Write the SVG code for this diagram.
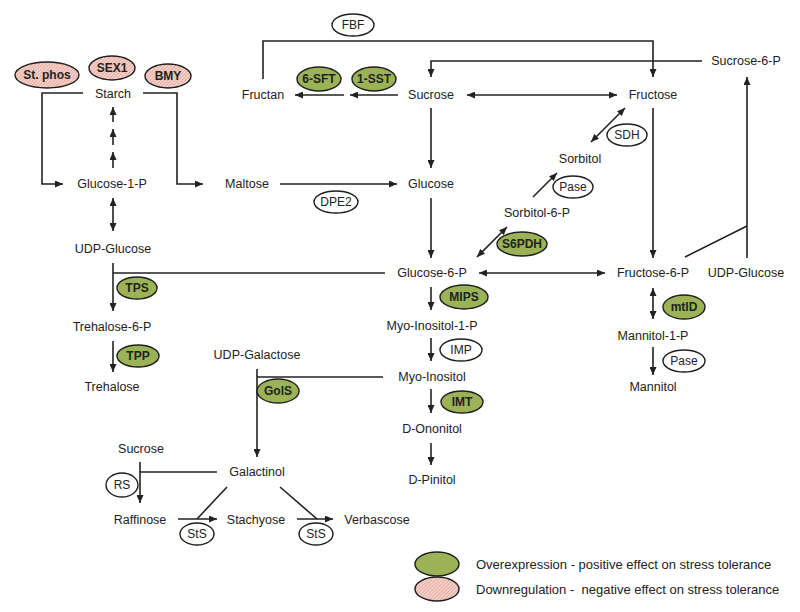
<svg xmlns="http://www.w3.org/2000/svg" width="800" height="612" viewBox="0 0 800 612">
<style>
text{font-family:"Liberation Sans",Arial,sans-serif;font-size:12.5px;fill:#222;text-anchor:middle;dominant-baseline:central}
.e text{font-weight:bold;font-size:12px}
.w text{font-weight:normal}
.lg{text-anchor:start;font-size:13px;white-space:pre}
.c line,.c polyline{stroke:#222;stroke-width:1.6;fill:none}
.ar{marker-end:url(#ah)}
.ar2{marker-end:url(#ah);marker-start:url(#ah)}
ellipse.g{fill:#9bb356;stroke:#1e1e1e;stroke-width:1.4}
ellipse.p{fill:url(#hatch);stroke:#1e1e1e;stroke-width:1.4}
ellipse.o{fill:#fff;stroke:#1e1e1e;stroke-width:1.4}
</style>
<defs>
<marker id="ah" markerUnits="userSpaceOnUse" markerWidth="8" markerHeight="7" refX="8" refY="3.5" orient="auto-start-reverse">
<path d="M0,0 L8,3.5 L0,7 z" fill="#222"/>
</marker>
<pattern id="hatch" patternUnits="userSpaceOnUse" width="2.5" height="2.5" patternTransform="rotate(45)">
<rect width="2.5" height="2.5" fill="#f4d0c8"/>
<line x1="0" y1="0" x2="0" y2="2.5" stroke="#d98a7c" stroke-width="0.9"/>
</pattern>
</defs>
<rect width="800" height="612" fill="#fff"/>

<g class="c" id="connectors">
<polyline class="ar" points="263,79 263,41 653,41 653,77"/>
<polyline class="ar" points="702,61 431,61 431,77"/>
<line class="ar" x1="398" y1="95" x2="350" y2="95"/>
<line class="ar" x1="344" y1="95" x2="295" y2="95"/>
<line class="ar2" x1="467" y1="95" x2="617" y2="95"/>
<polyline class="ar" points="83,93 42,93 42,184 63,184"/>
<polyline class="ar" points="143,93 177,93 177,184 203,184"/>
<line class="ar" x1="113" y1="168" x2="113" y2="152"/>
<line class="ar" x1="113" y1="145" x2="113" y2="129"/>
<line class="ar" x1="113" y1="122" x2="113" y2="107"/>
<line class="ar2" x1="113" y1="198" x2="113" y2="231"/>
<line class="ar" x1="280" y1="184" x2="397" y2="184"/>
<line class="ar" x1="431" y1="108" x2="431" y2="168"/>
<line class="ar" x1="431" y1="198" x2="431" y2="258"/>
<line class="ar" x1="113" y1="263" x2="113" y2="311"/>
<line x1="113" y1="273" x2="385" y2="273"/>
<line class="ar" x1="113" y1="341" x2="113" y2="372"/>
<line class="ar2" x1="477" y1="257" x2="507" y2="227"/>
<line class="ar" x1="533" y1="197" x2="557" y2="173"/>
<line class="ar2" x1="591" y1="142" x2="625" y2="108"/>
<line class="ar2" x1="479" y1="273" x2="605" y2="273"/>
<line class="ar" x1="653" y1="108" x2="653" y2="258"/>
<polyline points="685,257 747,226"/>
<line class="ar" x1="747" y1="258" x2="747" y2="77"/>
<line class="ar2" x1="653" y1="288" x2="653" y2="319"/>
<line class="ar" x1="653" y1="347" x2="653" y2="375"/>
<line class="ar" x1="431" y1="287" x2="431" y2="310"/>
<line class="ar" x1="431" y1="338" x2="431" y2="361"/>
<line class="ar" x1="431" y1="389" x2="431" y2="413"/>
<line class="ar" x1="431" y1="443" x2="431" y2="465"/>
<line x1="257" y1="377" x2="383" y2="377"/>
<line class="ar" x1="257" y1="369" x2="257" y2="457"/>
<line x1="217" y1="472" x2="140" y2="472"/>
<line class="ar" x1="140" y1="462" x2="140" y2="503"/>
<line class="ar" x1="178" y1="519" x2="217" y2="519"/>
<line x1="227" y1="487" x2="197" y2="519"/>
<line class="ar" x1="297" y1="519" x2="333" y2="519"/>
<line x1="280" y1="487" x2="317" y2="519"/>
</g>

<g id="n-starch"><text x="113" y="94">Starch</text></g>
<g id="n-fructan"><text x="263" y="95">Fructan</text></g>
<g id="n-sucrose"><text x="431" y="95">Sucrose</text></g>
<g id="n-fructose"><text x="653" y="95">Fructose</text></g>
<g id="n-sucrose6p"><text x="746" y="61">Sucrose-6-P</text></g>
<g id="n-glucose1p"><text x="112" y="184">Glucose-1-P</text></g>
<g id="n-maltose"><text x="247" y="184">Maltose</text></g>
<g id="n-glucose"><text x="431" y="184">Glucose</text></g>
<g id="n-sorbitol"><text x="580" y="159">Sorbitol</text></g>
<g id="n-sorbitol6p"><text x="537" y="213">Sorbitol-6-P</text></g>
<g id="n-udpglucose"><text x="113" y="249">UDP-Glucose</text></g>
<g id="n-glucose6p"><text x="432" y="273">Glucose-6-P</text></g>
<g id="n-fructose6p"><text x="653" y="273">Fructose-6-P</text></g>
<g id="n-udpglucose2"><text x="746" y="273">UDP-Glucose</text></g>
<g id="n-trehalose6p"><text x="112" y="327">Trehalose-6-P</text></g>
<g id="n-trehalose"><text x="112" y="387">Trehalose</text></g>
<g id="n-myoinositol1p"><text x="432" y="326">Myo-Inositol-1-P</text></g>
<g id="n-myoinositol"><text x="432" y="377">Myo-Inositol</text></g>
<g id="n-dononitol"><text x="432" y="429">D-Ononitol</text></g>
<g id="n-dpinitol"><text x="432" y="480">D-Pinitol</text></g>
<g id="n-mannitol1p"><text x="653" y="336">Mannitol-1-P</text></g>
<g id="n-mannitol"><text x="653" y="387">Mannitol</text></g>
<g id="n-udpgalactose"><text x="257" y="355">UDP-Galactose</text></g>
<g id="n-galactinol"><text x="257" y="472">Galactinol</text></g>
<g id="n-sucrose2"><text x="141" y="449">Sucrose</text></g>
<g id="n-raffinose"><text x="140" y="520">Raffinose</text></g>
<g id="n-stachyose"><text x="256" y="520">Stachyose</text></g>
<g id="n-verbascose"><text x="377" y="520">Verbascose</text></g>

<g class="e" id="z-stphos"><ellipse class="p" cx="47" cy="75" rx="32" ry="13"/><text x="47" y="75">St. phos</text></g>
<g class="e" id="z-sex1"><ellipse class="p" cx="112" cy="68" rx="23" ry="12"/><text x="112" y="68">SEX1</text></g>
<g class="e" id="z-bmy"><ellipse class="p" cx="168" cy="76" rx="23" ry="12"/><text x="168" y="76">BMY</text></g>
<g class="e" id="z-6sft"><ellipse class="g" cx="319" cy="79" rx="22" ry="12"/><text x="319" y="79">6-SFT</text></g>
<g class="e" id="z-1sst"><ellipse class="g" cx="374" cy="79" rx="22" ry="12"/><text x="374" y="79">1-SST</text></g>
<g class="e w" id="z-fbf"><ellipse class="o" cx="353" cy="25" rx="21" ry="11"/><text x="353" y="25">FBF</text></g>
<g class="e w" id="z-dpe2"><ellipse class="o" cx="336" cy="202" rx="22" ry="11"/><text x="336" y="202">DPE2</text></g>
<g class="e w" id="z-sdh"><ellipse class="o" cx="627" cy="135" rx="20" ry="11"/><text x="627" y="135">SDH</text></g>
<g class="e w" id="z-pase1"><ellipse class="o" cx="573" cy="187" rx="20" ry="11"/><text x="573" y="187">Pase</text></g>
<g class="e" id="z-s6pdh"><ellipse class="g" cx="522" cy="244" rx="25" ry="12"/><text x="522" y="244">S6PDH</text></g>
<g class="e" id="z-tps"><ellipse class="g" cx="137" cy="288" rx="20" ry="11"/><text x="137" y="288">TPS</text></g>
<g class="e" id="z-tpp"><ellipse class="g" cx="138" cy="356" rx="21" ry="11"/><text x="138" y="356">TPP</text></g>
<g class="e" id="z-mips"><ellipse class="g" cx="464" cy="297" rx="24" ry="12"/><text x="464" y="297">MIPS</text></g>
<g class="e w" id="z-imp"><ellipse class="o" cx="461" cy="350" rx="21" ry="11"/><text x="461" y="350">IMP</text></g>
<g class="e" id="z-imt"><ellipse class="g" cx="462" cy="402" rx="21" ry="11"/><text x="462" y="402">IMT</text></g>
<g class="e" id="z-mtld"><ellipse class="g" cx="684" cy="307" rx="21" ry="12"/><text x="684" y="307">mtlD</text></g>
<g class="e w" id="z-pase2"><ellipse class="o" cx="684" cy="361" rx="21" ry="11"/><text x="684" y="361">Pase</text></g>
<g class="e" id="z-gols"><ellipse class="g" cx="278" cy="391" rx="21" ry="12"/><text x="278" y="391">GolS</text></g>
<g class="e w" id="z-rs"><ellipse class="o" cx="122" cy="485" rx="16" ry="12"/><text x="122" y="485">RS</text></g>
<g class="e w" id="z-sts1"><ellipse class="o" cx="197" cy="534" rx="17" ry="11"/><text x="197" y="534">StS</text></g>
<g class="e w" id="z-sts2"><ellipse class="o" cx="316" cy="534" rx="17" ry="11"/><text x="316" y="534">StS</text></g>

<g id="legend">
<ellipse class="g" cx="437" cy="564" rx="22" ry="12"/>
<text class="lg" x="476" y="564">Overexpression - positive effect on stress tolerance</text>
<ellipse class="p" cx="437" cy="589" rx="22" ry="12"/>
<text class="lg" x="476" y="589" xml:space="preserve">Downregulation -  negative effect on stress tolerance</text>
</g>
</svg>
